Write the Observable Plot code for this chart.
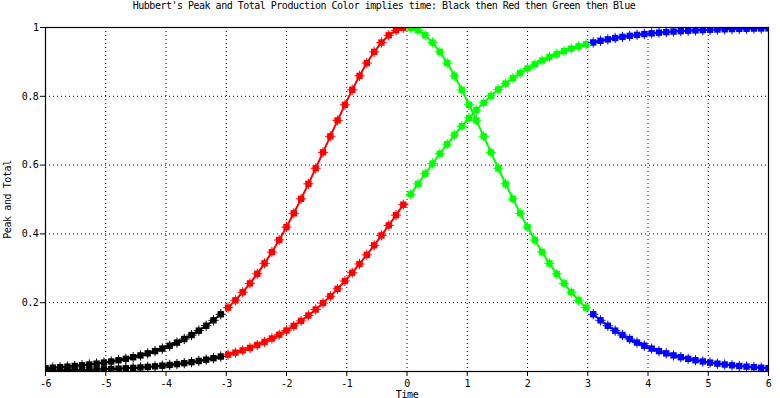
<!DOCTYPE html>
<html>
<head>
<meta charset="utf-8">
<script src="https://cdn.jsdelivr.net/npm/d3@7"></script>
<script src="https://cdn.jsdelivr.net/npm/@observablehq/plot@0.6"></script>
<style>
  body { margin: 0; background: #fff; }
  #title { width: 768px; height: 20px; text-align: center; font: 10px "DejaVu Sans Mono", monospace; letter-spacing: -0.5px; line-height: 11px; color: #000; white-space: nowrap; }
  #chart svg { display: block; }
</style>
</head>
<body>
<div id="title">Hubbert's Peak and Total Production Color implies time: Black then Red then Green then Blue</div>
<div id="chart"></div>
<script>
const time = [
  -6.000,-5.879,-5.758,-5.636,-5.515,-5.394,-5.273,-5.152,-5.030,-4.909,
  -4.788,-4.667,-4.545,-4.424,-4.303,-4.182,-4.061,-3.939,-3.818,-3.697,
  -3.576,-3.455,-3.333,-3.212,-3.091,-2.970,-2.848,-2.727,-2.606,-2.485,
  -2.364,-2.242,-2.121,-2.000,-1.879,-1.758,-1.636,-1.515,-1.394,-1.273,
  -1.152,-1.030,-0.909,-0.788,-0.667,-0.545,-0.424,-0.303,-0.182,-0.061,
  0.061,0.182,0.303,0.424,0.545,0.667,0.788,0.909,1.030,1.152,
  1.273,1.394,1.515,1.636,1.758,1.879,2.000,2.121,2.242,2.364,
  2.485,2.606,2.727,2.848,2.970,3.091,3.212,3.333,3.455,3.576,
  3.697,3.818,3.939,4.061,4.182,4.303,4.424,4.545,4.667,4.788,
  4.909,5.030,5.152,5.273,5.394,5.515,5.636,5.758,5.879,6.000
];
const peak = [
  0.0099,0.0111,0.0126,0.0142,0.0160,0.0180,0.0203,0.0229,0.0258,0.0291,
  0.0328,0.0369,0.0416,0.0468,0.0527,0.0593,0.0666,0.0749,0.0841,0.0944,
  0.1060,0.1188,0.1330,0.1488,0.1664,0.1857,0.2070,0.2304,0.2561,0.2840,
  0.3143,0.3471,0.3823,0.4199,0.4598,0.5018,0.5456,0.5908,0.6370,0.6836,
  0.7300,0.7753,0.8187,0.8595,0.8966,0.9291,0.9563,0.9774,0.9918,0.9991,
  0.9991,0.9918,0.9774,0.9563,0.9291,0.8966,0.8595,0.8187,0.7753,0.7300,
  0.6836,0.6370,0.5908,0.5456,0.5018,0.4598,0.4199,0.3823,0.3471,0.3143,
  0.2840,0.2561,0.2304,0.2070,0.1857,0.1664,0.1488,0.1330,0.1188,0.1060,
  0.0944,0.0841,0.0749,0.0666,0.0593,0.0527,0.0468,0.0416,0.0369,0.0328,
  0.0291,0.0258,0.0229,0.0203,0.0180,0.0160,0.0142,0.0126,0.0111,0.0099
];
const total = [
  0.0025,0.0028,0.0031,0.0036,0.0040,0.0045,0.0051,0.0058,0.0065,0.0073,
  0.0083,0.0093,0.0105,0.0118,0.0133,0.0150,0.0169,0.0191,0.0215,0.0242,
  0.0272,0.0306,0.0344,0.0387,0.0435,0.0488,0.0548,0.0614,0.0687,0.0769,
  0.0860,0.0960,0.1070,0.1192,0.1325,0.1471,0.1629,0.1802,0.1988,0.2188,
  0.2402,0.2630,0.2871,0.3126,0.3392,0.3669,0.3955,0.4248,0.4546,0.4849,
  0.5151,0.5454,0.5752,0.6045,0.6331,0.6608,0.6874,0.7129,0.7370,0.7598,
  0.7812,0.8012,0.8198,0.8371,0.8529,0.8675,0.8808,0.8930,0.9040,0.9140,
  0.9231,0.9313,0.9386,0.9452,0.9512,0.9565,0.9613,0.9655,0.9694,0.9728,
  0.9758,0.9785,0.9809,0.9831,0.9850,0.9867,0.9882,0.9895,0.9907,0.9917,
  0.9927,0.9935,0.9942,0.9949,0.9955,0.9960,0.9964,0.9969,0.9972,0.9975
];
const phases = ["Black period", "Red period", "Green period", "Blue period"];
const phaseColors = ["#000000", "#ff0000", "#00ff00", "#0000ff"];
const xTicks = [-6,-5,-4,-3,-2,-1,0,1,2,3,4,5,6];
const yTicks = [0.2,0.4,0.6,0.8,1];

const perPhase = time.length / phases.length;
const rows = time.map((t, i) => ({t, peak: peak[i], total: total[i], phase: phases[Math.floor(i / perPhase)]}));

const font = '"DejaVu Sans Mono", monospace';
const fmt = d => String(d);

const chart = Plot.plot({
  width: 780,
  height: 378,
  marginLeft: 45,
  marginRight: 12,
  marginTop: 7,
  marginBottom: 27,
  style: {fontFamily: font, fontSize: "10px", color: "#000", background: "#fff", letterSpacing: "-0.4px"},
  x: {domain: [-6, 6]},
  y: {domain: [0, 1]},
  color: {type: "ordinal", domain: phases, range: phaseColors},
  marks: [
    Plot.gridX(xTicks, {stroke: "#000", strokeOpacity: 1, strokeDasharray: "1,3"}),
    Plot.gridY(yTicks, {stroke: "#000", strokeOpacity: 1, strokeDasharray: "1,3"}),
    Plot.axisX(xTicks, {tickSize: 5, tickPadding: 3, tickFormat: fmt, label: "Time", labelAnchor: "center", labelOffset: 26, labelArrow: "none", stroke: "#000"}),
    Plot.axisY(yTicks, {tickSize: 5, tickPadding: 2, tickFormat: fmt, label: "Peak and Total", labelAnchor: "center", labelOffset: 42, labelArrow: "none", stroke: "#000"}),
    Plot.line(rows, {x: "t", y: "total", stroke: "phase", strokeWidth: 2, clip: true}),
    Plot.line(rows, {x: "t", y: "peak", stroke: "phase", strokeWidth: 2, clip: true}),
    Plot.dot(rows, {x: "t", y: "total", fill: "phase", symbol: "square", r: 3.6, clip: true}),
    Plot.dot(rows, {x: "t", y: "peak", fill: "phase", symbol: "square", r: 3.6, clip: true}),
    Plot.dot(rows, {x: "t", y: "total", stroke: "phase", symbol: "plus", r: 3.4, strokeWidth: 1, clip: true}),
    Plot.dot(rows, {x: "t", y: "peak", stroke: "phase", symbol: "plus", r: 3.4, strokeWidth: 1, clip: true}),
    Plot.frame({stroke: "#000", strokeWidth: 1.2})
  ]
});
document.getElementById("chart").appendChild(chart);
</script>
</body>
</html>
